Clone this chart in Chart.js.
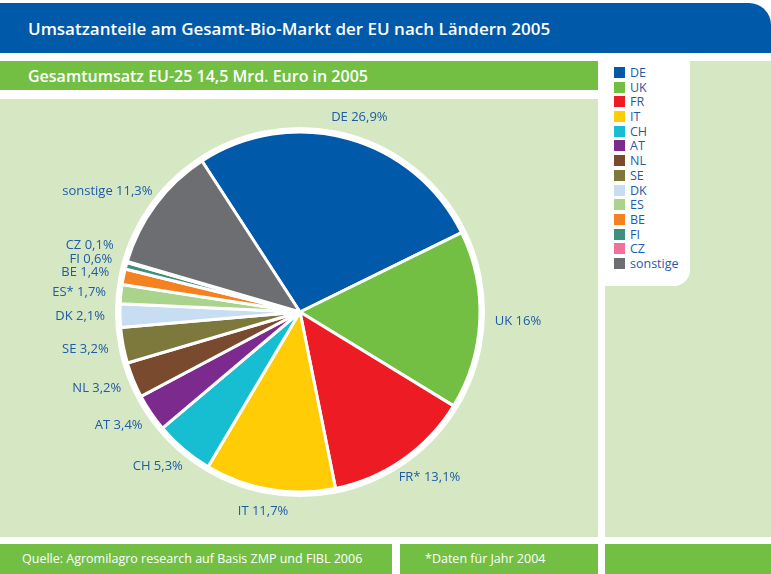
<!DOCTYPE html>
<html>
<head>
<meta charset="utf-8">
<script src="https://cdn.jsdelivr.net/npm/chart.js@4/dist/chart.umd.min.js"></script>
<style>
  body { margin: 0; width: 771px; height: 574px; background: #fff; position: relative; overflow: hidden; font-family: "Open Sans", sans-serif; }
  .box { position: absolute; }
  #header { left: 0; top: 3px; width: 771px; height: 50px; background: #0059a9; border-top-right-radius: 22px; }
  #header span { position: absolute; left: 28px; top: 14px; color: #fff; font-size: 17px; font-weight: 600; }
  #sub { left: 0; top: 61px; width: 598px; height: 29px; background: #72bf44; }
  #sub span { position: absolute; left: 28px; top: 4px; color: #fff; font-size: 16px; font-weight: 600; }
  #panel { left: 0; top: 99px; width: 598px; height: 438px; background: #d5e8c3; }
  #rightPanel { left: 605px; top: 61px; width: 166px; height: 476px; background: #d5e8c3; }
  #legendBox { left: 605px; top: 58px; width: 85px; height: 228px; background: #fff; border-bottom-right-radius: 16px; }
  #legend { list-style: none; margin: 0; padding: 0; position: absolute; left: 9px; top: 8px; }
  #legend li { height: 14.7px; line-height: 14.7px; font-size: 12.5px; color: #1f5ba6; white-space: nowrap; }
  #legend i { display: inline-block; width: 11px; height: 11px; margin-right: 5px; vertical-align: -1px; }
  .foot { top: 544px; height: 30px; background: #72bf44; color: #fff; font-size: 12.5px; }
  .foot span { position: absolute; top: 6px; }
  canvas { position: absolute; left: 0; top: 99px; }
</style>
</head>
<body>
<div class="box" id="header"><span>Umsatzanteile am Gesamt-Bio-Markt der EU nach Ländern 2005</span></div>
<div class="box" id="sub"><span>Gesamtumsatz EU-25 14,5 Mrd. Euro in 2005</span></div>
<div class="box" id="panel"></div>
<div class="box" id="rightPanel"></div>
<div class="box" id="legendBox"><ul id="legend"></ul></div>
<div class="box foot" style="left:0;width:392px"><span style="left:22px">Quelle: Agromilagro research auf Basis ZMP und FIBL 2006</span></div>
<div class="box foot" style="left:400px;width:198px"><span style="left:25px">*Daten für Jahr 2004</span></div>
<div class="box foot" style="left:605px;width:166px"></div>
<canvas id="canvas" width="598" height="438"></canvas>
<script>
const countries = ["DE", "UK", "FR", "IT", "CH", "AT", "NL", "SE", "DK", "ES", "BE", "FI", "CZ", "sonstige"];
const pieLabels = ["DE", "UK", "FR*", "IT", "CH", "AT", "NL", "SE", "DK", "ES*", "BE", "FI", "CZ", "sonstige"];
const shares = [26.9, 16, 13.1, 11.7, 5.3, 3.4, 3.2, 3.2, 2.1, 1.7, 1.4, 0.6, 0.1, 11.3];
const colors = ["#0059a9", "#72bf44", "#ed1c24", "#ffcc05", "#17bdd0", "#7d2a8e", "#7a4a2f", "#7d783c", "#c7ddf1", "#aad48c", "#f58220", "#3f8f7d", "#f0719c", "#6d6e72"];

// white ring round the pie
const ring = {
  id: "ring",
  beforeDatasetsDraw(chart) {
    const arc = chart.getDatasetMeta(0).data[0];
    const c = chart.ctx;
    c.save();
    c.beginPath();
    c.arc(arc.x, arc.y, arc.outerRadius + 5, 0, Math.PI * 2);
    c.fillStyle = "#fff";
    c.fill();
    c.restore();
  },
};

// slice labels outside the pie
const outLabels = {
  id: "outLabels",
  afterDatasetsDraw(chart) {
    const c = chart.ctx;
    const meta = chart.getDatasetMeta(0);
    c.save();
    c.font = '13px "Open Sans"';
    c.fillStyle = "#1f5ba6";
    c.textAlign = "center";
    c.textBaseline = "middle";
    const items = meta.data.map((arc, i) => {
      const text = pieLabels[i] + " " + String(shares[i]).replace(".", ",") + "%";
      const mid = (arc.startAngle + arc.endAngle) / 2;
      const r = arc.outerRadius + 15;
      const w = c.measureText(text).width;
      return {
        text,
        x: arc.x + Math.cos(mid) * r + Math.cos(mid) * w / 2,
        y: arc.y + Math.sin(mid) * r + Math.sin(mid) * 7,
        left: Math.cos(mid) < 0,
      };
    });
    const left = items.filter((d) => d.left).sort((a, b) => b.y - a.y);
    for (let i = 1; i < left.length; i++) {
      if (left[i].y > left[i - 1].y - 13.5) left[i].y = left[i - 1].y - 13.5;
    }
    items.forEach((d) => c.fillText(d.text, d.x, d.y));
    c.restore();
  },
};

const chart = new Chart(document.getElementById("canvas"), {
  type: "pie",
  data: {
    labels: countries,
    datasets: [
      {
        data: shares,
        backgroundColor: colors,
        borderColor: "#fff",
        borderWidth: 3,
        radius: 180,
      },
    ],
  },
  options: {
    responsive: false,
    animation: false,
    rotation: -33,
    layout: { padding: { left: 2, right: 0, top: 0, bottom: 12 } },
    plugins: {
      legend: { display: false },
      tooltip: { enabled: false },
    },
  },
  plugins: [ring, outLabels],
});

const legend = document.getElementById("legend");
chart.data.labels.forEach((name, i) => {
  const li = document.createElement("li");
  li.innerHTML = '<i style="background:' + chart.data.datasets[0].backgroundColor[i] + '"></i>' + name;
  legend.appendChild(li);
});
</script>
</body>
</html>
